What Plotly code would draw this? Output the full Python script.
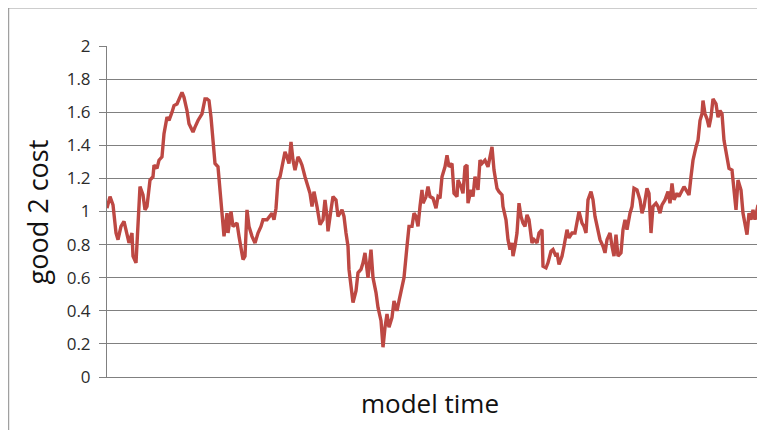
import plotly.graph_objs as go

# model time steps and the cost of good 2
model_time = [
    0, 3, 6, 9, 11, 14, 17, 20, 22, 25, 26, 29, 31, 33, 36, 38, 40, 43, 46, 47,
    50, 52, 55, 57, 60, 62, 65, 67, 70, 72, 75, 77, 80, 82, 86, 88, 91, 95, 98, 100,
    102, 104, 106, 108, 111, 113, 115, 117, 120, 121, 124, 126, 130, 132, 134, 136, 138, 140, 142, 145,
    148, 151, 154, 156, 160, 163, 165, 167, 169, 171, 173, 175, 178, 180, 182, 184, 186, 188, 191, 193,
    195, 198, 201, 203, 205, 207, 210, 213, 216, 218, 220, 221, 224, 226, 229, 231, 235, 237, 239, 241,
    242, 245, 246, 249, 251, 254, 256, 258, 260, 261, 264, 266, 269, 271, 274, 276, 278, 280, 282, 285,
    287, 290, 292, 295, 297, 300, 302, 305, 307, 309, 311, 313, 315, 316, 319, 321, 323, 326, 329, 331,
    333, 335, 338, 340, 342, 345, 347, 350, 351, 354, 356, 358, 360, 361, 364, 366, 368, 371, 373, 375,
    378, 381, 383, 385, 387, 390, 392, 395, 396, 399, 401, 403, 405, 406, 408, 410, 412, 414, 416, 418,
    420, 422, 425, 427, 430, 432, 435, 436, 439, 441, 444, 446, 449, 450, 452, 455, 457, 460, 462, 465,
    468, 470, 472, 475, 477, 479, 481, 484, 486, 488, 490, 493, 496, 498, 500, 503, 505, 507, 509, 511,
    514, 516, 518, 520, 523, 525, 527, 530, 531, 533, 535, 537, 540, 542, 544, 546, 549, 551, 553, 555,
    558, 561, 563, 565, 567, 570, 572, 575, 577, 580, 582, 584, 586, 589, 591, 593, 595, 596, 598, 600,
    602, 604, 606, 609, 611, 613, 615, 617, 620, 622, 625, 627, 629, 631, 634, 636, 638, 640, 642, 644,
    646, 648, 651,
]
good2_cost = [
    1.02, 1.09, 1.04, 0.87, 0.83, 0.91, 0.94, 0.87, 0.81, 0.87, 0.73, 0.69, 0.93, 1.15, 1.10, 1.01, 1.03, 1.19, 1.21, 1.28,
    1.26, 1.31, 1.33, 1.47, 1.57, 1.55, 1.60, 1.64, 1.65, 1.68, 1.72, 1.69, 1.61, 1.53, 1.48, 1.51, 1.55, 1.59, 1.68, 1.68,
    1.67, 1.57, 1.41, 1.29, 1.27, 1.15, 0.99, 0.85, 0.99, 0.87, 1.00, 0.91, 0.93, 0.85, 0.77, 0.71, 0.73, 1.01, 0.91, 0.85,
    0.81, 0.87, 0.91, 0.95, 0.95, 0.97, 0.99, 0.95, 1.02, 1.19, 1.21, 1.27, 1.36, 1.33, 1.29, 1.42, 1.31, 1.25, 1.33, 1.31,
    1.28, 1.21, 1.15, 1.11, 1.03, 1.12, 1.03, 0.92, 0.95, 1.07, 0.97, 0.88, 1.01, 1.09, 1.07, 0.97, 1.01, 0.97, 0.87, 0.79,
    0.65, 0.51, 0.45, 0.52, 0.63, 0.65, 0.69, 0.75, 0.67, 0.60, 0.77, 0.60, 0.51, 0.42, 0.34, 0.18, 0.30, 0.38, 0.30, 0.36,
    0.46, 0.40, 0.46, 0.54, 0.60, 0.79, 0.91, 0.91, 0.99, 0.97, 0.91, 1.03, 1.13, 1.05, 1.09, 1.15, 1.09, 1.08, 1.02, 1.09,
    1.08, 1.21, 1.27, 1.34, 1.27, 1.29, 1.11, 1.09, 1.19, 1.15, 1.11, 1.27, 1.28, 1.05, 1.13, 1.09, 1.21, 1.13, 1.31, 1.29,
    1.31, 1.27, 1.32, 1.39, 1.25, 1.14, 1.12, 1.10, 1.03, 0.95, 0.83, 0.77, 0.81, 0.73, 0.79, 0.87, 1.05, 0.97, 0.93, 0.91,
    0.98, 0.95, 0.81, 0.83, 0.81, 0.87, 0.89, 0.67, 0.66, 0.69, 0.76, 0.77, 0.73, 0.75, 0.68, 0.73, 0.79, 0.89, 0.84, 0.87,
    0.87, 0.93, 1.00, 0.93, 0.91, 0.87, 1.07, 1.12, 1.07, 0.97, 0.91, 0.83, 0.79, 0.75, 0.83, 0.87, 0.79, 0.73, 0.86, 0.73,
    0.75, 0.89, 0.95, 0.89, 0.99, 1.03, 1.14, 1.13, 1.11, 1.07, 0.99, 1.03, 1.14, 1.11, 0.87, 1.03, 1.05, 1.03, 0.99, 1.04,
    1.07, 1.12, 1.05, 1.17, 1.07, 1.11, 1.09, 1.13, 1.15, 1.12, 1.10, 1.21, 1.31, 1.39, 1.43, 1.55, 1.59, 1.67, 1.59, 1.56,
    1.51, 1.57, 1.68, 1.65, 1.57, 1.61, 1.59, 1.43, 1.33, 1.26, 1.25, 1.15, 1.01, 1.19, 1.13, 0.99, 0.93, 0.86, 0.99, 0.95,
    1.01, 0.95, 1.04,
]

GRID = "#808080"
FONT = "Open Sans"


def draw_cost_graph():
    trace = go.Scatter(
        x=model_time,
        y=good2_cost,
        mode="lines",
        line=dict(color="#bd4843", width=3.4),
        showlegend=False,
        hoverinfo="skip",
    )
    # the page body adds an 8px offset, margins account for it
    layout = go.Layout(
        width=765,
        height=422,
        margin=dict(l=99, r=15, t=38, b=53),
        paper_bgcolor="white",
        plot_bgcolor="white",
        xaxis=dict(
            range=[0, 651],
            showgrid=False,
            zeroline=False,
            showticklabels=False,
            showline=True,
            linecolor=GRID,
            linewidth=1,
        ),
        yaxis=dict(
            range=[0, 2],
            dtick=0.2,
            showgrid=True,
            gridcolor=GRID,
            gridwidth=1,
            zeroline=False,
            showline=True,
            linecolor=GRID,
            linewidth=1,
            ticks="outside",
            ticklen=7,
            tickcolor=GRID,
            ticklabelstandoff=5,
            tickfont=dict(family=FONT, size=17, color="#2b2b2b"),
        ),
        annotations=[
            dict(text="model time", xref="paper", yref="paper", x=0.496, y=-0.08,
                 xanchor="center", yanchor="middle", showarrow=False,
                 font=dict(family=FONT, size=26, color="#111111")),
            dict(text="good 2 cost", xref="paper", yref="paper", x=-0.106, y=0.5,
                 xanchor="center", yanchor="middle", textangle=-90, showarrow=False,
                 font=dict(family=FONT, size=27, color="#111111")),
        ],
        shapes=[
            # chart area border (left and top edges visible)
            dict(type="line", xref="paper", yref="paper", x0=-0.151, x1=-0.151, y0=-0.3, y1=1.115,
                 line=dict(color="#8a8a8a", width=1)),
            dict(type="line", xref="paper", yref="paper", x0=-0.151, x1=1.2, y0=1.115, y1=1.115,
                 line=dict(color="#8a8a8a", width=1)),
        ],
    )
    fig = go.Figure(data=[trace], layout=layout)
    fig.write_html("out.html")


if __name__ == "__main__":
    draw_cost_graph()
